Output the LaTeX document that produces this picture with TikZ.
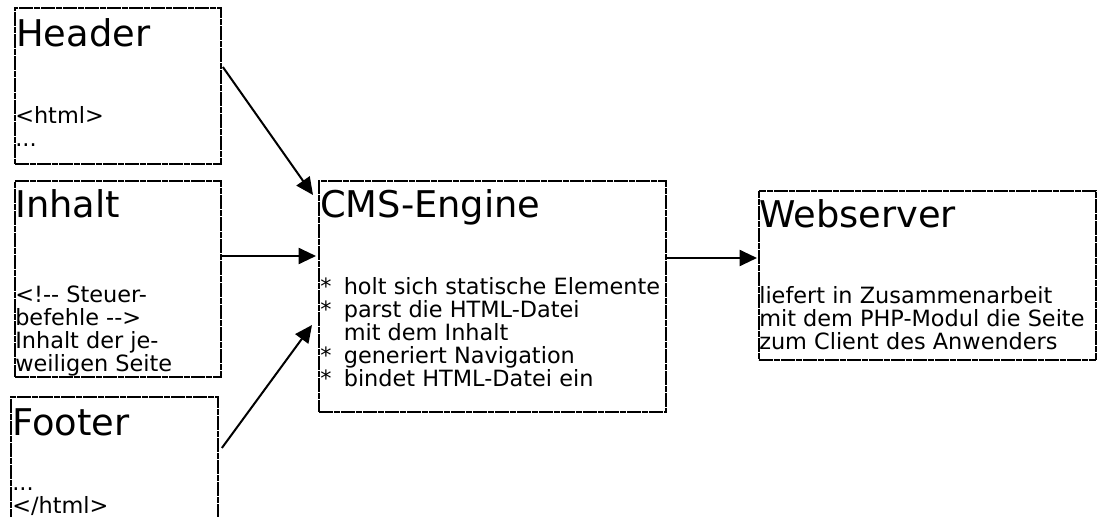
\documentclass[tikz,border=0pt]{standalone}
\usepackage{fontspec}
\newfontfamily\dejavu{DejaVu Sans}
\usetikzlibrary{arrows.meta,calc}
\newdimen\pxu
\pxu=0.75pt
\newcommand\stack[1]{\parbox[t]{12cm}{\raggedright #1}}
\newcommand\bullitem{{*}\hspace{0.55em}}
\tikzset{
  panel/.style={draw=black, line width=1.4pt, dash pattern=on 5pt off 0.5pt,
    anchor=north west, inner sep=0pt},
  title/.style={anchor=base west, inner sep=0pt,
    font=\dejavu\fontsize{27.6}{30}\selectfont},
  body/.style={anchor=base west, inner sep=0pt,
    font=\dejavu\fontsize{16.8}{17.25}\selectfont},
  link/.style={draw=black, line width=1.5pt, -{Triangle[length=13pt,width=12pt]}}
}
\begin{document}
\begin{tikzpicture}[x=0.75pt,y=-0.75pt]
\useasboundingbox (0,0) rectangle (1100,517);

% boxes
\node[panel, minimum width=206\pxu, minimum height=156\pxu] (header) at (14,7) {};
\node[panel, minimum width=206\pxu, minimum height=196\pxu] (inhalt) at (14,180) {};
\node[panel, minimum width=207\pxu, minimum height=134\pxu] (footer) at (10,396) {};
\node[panel, minimum width=347\pxu, minimum height=231\pxu] (cms) at (318,180) {};
\node[panel, minimum width=337\pxu, minimum height=169\pxu] (web) at (758,190) {};

% titles
\node[title] (headerT) at (16,47) {Header};
\node[title] (inhaltT) at (15,217) {Inhalt};
\node[title] (footerT) at (12,435) {Footer};
\node[title] (cmsT) at (320,217) {CMS-Engine};
\node[title] (webT) at (759,227) {Webserver};

% contents
\node[body] (headerB) at (15,123) {\stack{<html>\\...}};
\node[body] (inhaltB) at (15,302) {\stack{<!-- Steuer-\\befehle -->\\Inhalt der je-\\weiligen Seite}};
\node[body] (footerB) at (12,490) {\stack{...\\</html>}};
\node[body] (cmsB) at (320,294) {\stack{\bullitem holt sich statische Elemente\\
  \bullitem parst die HTML-Datei\\
  \hspace{1.05em}mit dem Inhalt\\
  \bullitem generiert Navigation\\
  \bullitem bindet HTML-Datei ein}};
\node[body] (webB) at (759,303) {\stack{liefert in Zusammenarbeit\\mit dem PHP-Modul die Seite\\zum Client des Anwenders}};

% connectors
\draw[link] ($(header.north east)+(1,60)$) -- ($(cms.north west)+(-5,15)$);
\draw[link] ($(inhalt.north east)+(0,76)$) -- ($(cms.north west)+(-2,76)$);
\draw[link] ($(footer.north east)+(3,52)$) -- ($(cms.north west)+(-6,145)$);
\draw[link] ($(cms.north east)+(0,78)$) -- ($(web.north west)+(-1,68)$);
\end{tikzpicture}
\end{document}
